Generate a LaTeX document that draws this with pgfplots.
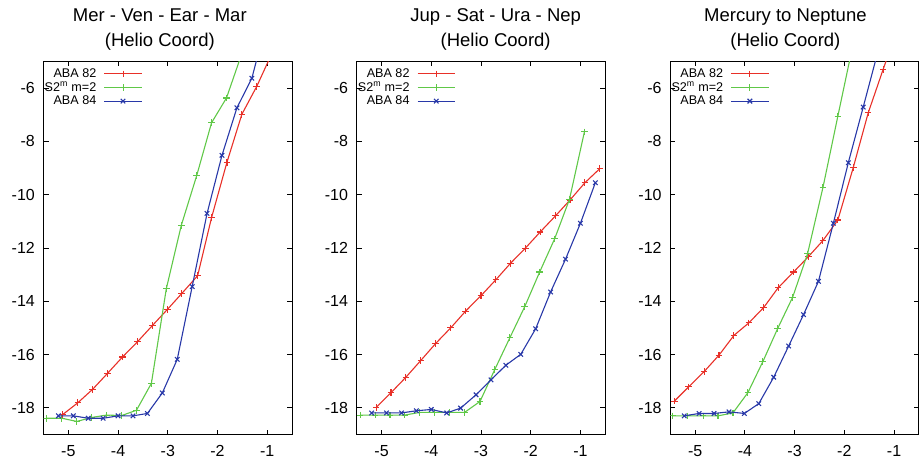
\documentclass[border=0pt]{standalone}
\usepackage{pgfplots}
\pgfplotsset{compat=1.18}
\usepackage{fontspec}
\setmainfont{Liberation Sans}

\definecolor{gred}{RGB}{232,48,40}
\definecolor{ggreen}{RGB}{96,200,72}
\definecolor{gblue}{RGB}{40,56,168}

\pgfplotsset{
  helio/.style={
    anchor=south west,
    scale only axis,
    width=248.6pt, height=373pt,
    xmin=-5.5, xmax=-0.5,
    ymin=-19, ymax=-5,
    xtick={-5,-4,-3,-2,-1},
    ytick={-18,-16,-14,-12,-10,-8,-6},
    minor tick num=0,
    tick align=inside,
    major tick length=5pt,
    axis line style={line width=1pt},
    every tick/.style={black, line width=0.8pt},
    /pgf/number format/assume math mode=true,
    ticklabel style={font=\fontsize{16}{16}\selectfont},
    yticklabel style={inner sep=0pt, xshift=-8.5pt},
    xticklabel style={inner sep=0pt, yshift=-10.5pt},
    every axis title/.style={anchor=south, inner sep=0pt, yshift=10.9pt,
      align=center, font=\fontsize{18.5}{24.7}\selectfont},
    clip marker paths=true,
    legend plot pos=right,
    legend cell align=right,
    legend image code/.code={
      \draw[mark repeat=2,mark phase=2,#1] plot coordinates {(0pt,0pt) (18.7pt,0pt) (37.4pt,0pt)};},
    legend style={draw=none, fill=none, at={(0,1)}, anchor=north west,
      xshift=0.5pt, yshift=-6.5pt, inner sep=0pt, column sep=7pt, row sep=2.2pt,
      font=\fontsize{12.6}{12.6}\selectfont, nodes={inner sep=0.5pt}},
  },
  r82/.style={color=gred, line width=1.1pt, mark=+, mark size=3.3pt},
  s2m/.style={color=ggreen, line width=1.1pt, mark=+, mark size=3.3pt},
  a84/.style={color=gblue, line width=1.1pt, mark=x, mark size=3.2pt},
}

\begin{document}
\begin{tikzpicture}

% Mer - Ven - Ear - Mar
\begin{axis}[helio, at={(43.5pt,26.5pt)},
  title={Mer - Ven - Ear - Mar\\(Helio Coord)},
  title style={at={(0.468,1)}}]
\addplot[r82] coordinates {
  (-5.12,-18.26)(-4.81,-17.81)(-4.51,-17.30)(-4.21,-16.70)(-3.91,-16.09)
  (-3.61,-15.52)(-3.31,-14.91)(-3.01,-14.31)(-2.72,-13.71)(-2.40,-13.04)
  (-2.12,-10.86)(-1.81,-8.78)(-1.51,-6.98)(-1.21,-5.93)(-0.90,-4.67)};
\addplot[s2m] coordinates {
  (-5.44,-18.39)(-5.13,-18.39)(-4.83,-18.51)(-4.53,-18.36)(-4.23,-18.27)
  (-3.93,-18.29)(-3.63,-18.09)(-3.33,-17.08)(-3.03,-13.53)(-2.73,-11.16)
  (-2.42,-9.29)(-2.12,-7.30)(-1.82,-6.37)(-1.52,-4.75)};
\addplot[a84] coordinates {
  (-5.20,-18.30)(-4.90,-18.30)(-4.60,-18.39)(-4.30,-18.39)(-4.00,-18.30)
  (-3.70,-18.30)(-3.41,-18.21)(-3.11,-17.44)(-2.81,-16.18)(-2.51,-13.45)
  (-2.21,-10.70)(-1.91,-8.52)(-1.61,-6.74)(-1.31,-5.63)(-1.01,-3.50)};
\legend{ABA 82, S2\textsuperscript{m} m=2, ABA 84}
\end{axis}

% Jup - Sat - Ura - Nep
\begin{axis}[helio, at={(356.7pt,26.5pt)},
  title={Jup - Sat - Ura - Nep\\(Helio Coord)},
  title style={at={(0.559,1)}}]
\addplot[r82] coordinates {
  (-5.11,-17.99)(-4.81,-17.43)(-4.51,-16.85)(-4.21,-16.22)(-3.91,-15.58)
  (-3.61,-15.00)(-3.31,-14.37)(-3.00,-13.79)(-2.70,-13.19)(-2.41,-12.58)
  (-2.11,-12.01)(-1.81,-11.40)(-1.50,-10.79)(-1.21,-10.20)(-0.91,-9.55)
  (-0.61,-9.02)};
\addplot[s2m] coordinates {
  (-5.43,-18.27)(-5.13,-18.27)(-4.83,-18.27)(-4.53,-18.27)(-4.23,-18.17)
  (-3.93,-18.17)(-3.63,-18.17)(-3.33,-18.17)(-3.02,-17.76)(-2.72,-16.55)
  (-2.42,-15.37)(-2.12,-14.20)(-1.82,-12.90)(-1.52,-11.66)(-1.22,-10.17)
  (-0.92,-7.64)};
\addplot[a84] coordinates {
  (-5.20,-18.19)(-4.90,-18.19)(-4.60,-18.19)(-4.30,-18.11)(-4.00,-18.06)
  (-3.69,-18.19)(-3.41,-18.01)(-3.10,-17.51)(-2.80,-16.95)(-2.50,-16.40)
  (-2.20,-15.99)(-1.90,-15.03)(-1.60,-13.65)(-1.30,-12.42)(-1.00,-11.07)
  (-0.70,-9.55)};
\legend{ABA 82, S2\textsuperscript{m} m=2, ABA 84}
\end{axis}

% Mercury to Neptune
\begin{axis}[helio, at={(670.3pt,26.5pt)},
  title={Mercury to Neptune\\(Helio Coord)},
  title style={at={(0.463,1)}}]
\addplot[r82] coordinates {
  (-5.42,-17.75)(-5.13,-17.21)(-4.82,-16.64)(-4.52,-16.02)(-4.22,-15.28)
  (-3.92,-14.81)(-3.62,-14.23)(-3.33,-13.49)(-3.02,-12.90)(-2.72,-12.32)
  (-2.43,-11.72)(-2.13,-10.95)(-1.82,-8.98)(-1.52,-6.93)(-1.22,-5.30)
  (-0.92,-3.70)};
\addplot[s2m] coordinates {
  (-5.45,-18.30)(-5.15,-18.30)(-4.84,-18.30)(-4.54,-18.30)(-4.24,-18.19)
  (-3.94,-17.43)(-3.64,-16.27)(-3.34,-15.02)(-3.04,-13.85)(-2.74,-12.22)
  (-2.43,-9.73)(-2.13,-7.05)(-1.83,-4.40)};
\addplot[a84] coordinates {
  (-5.22,-18.30)(-4.92,-18.21)(-4.62,-18.21)(-4.32,-18.15)(-4.01,-18.21)
  (-3.72,-17.84)(-3.42,-16.85)(-3.12,-15.68)(-2.82,-14.50)(-2.52,-13.25)
  (-2.22,-11.07)(-1.92,-8.80)(-1.62,-6.71)(-1.32,-4.60)};
\legend{ABA 82, S2\textsuperscript{m} m=2, ABA 84}
\end{axis}

\pgfresetboundingbox
\useasboundingbox (0,0) rectangle (919pt,461pt);
\end{tikzpicture}
\end{document}
